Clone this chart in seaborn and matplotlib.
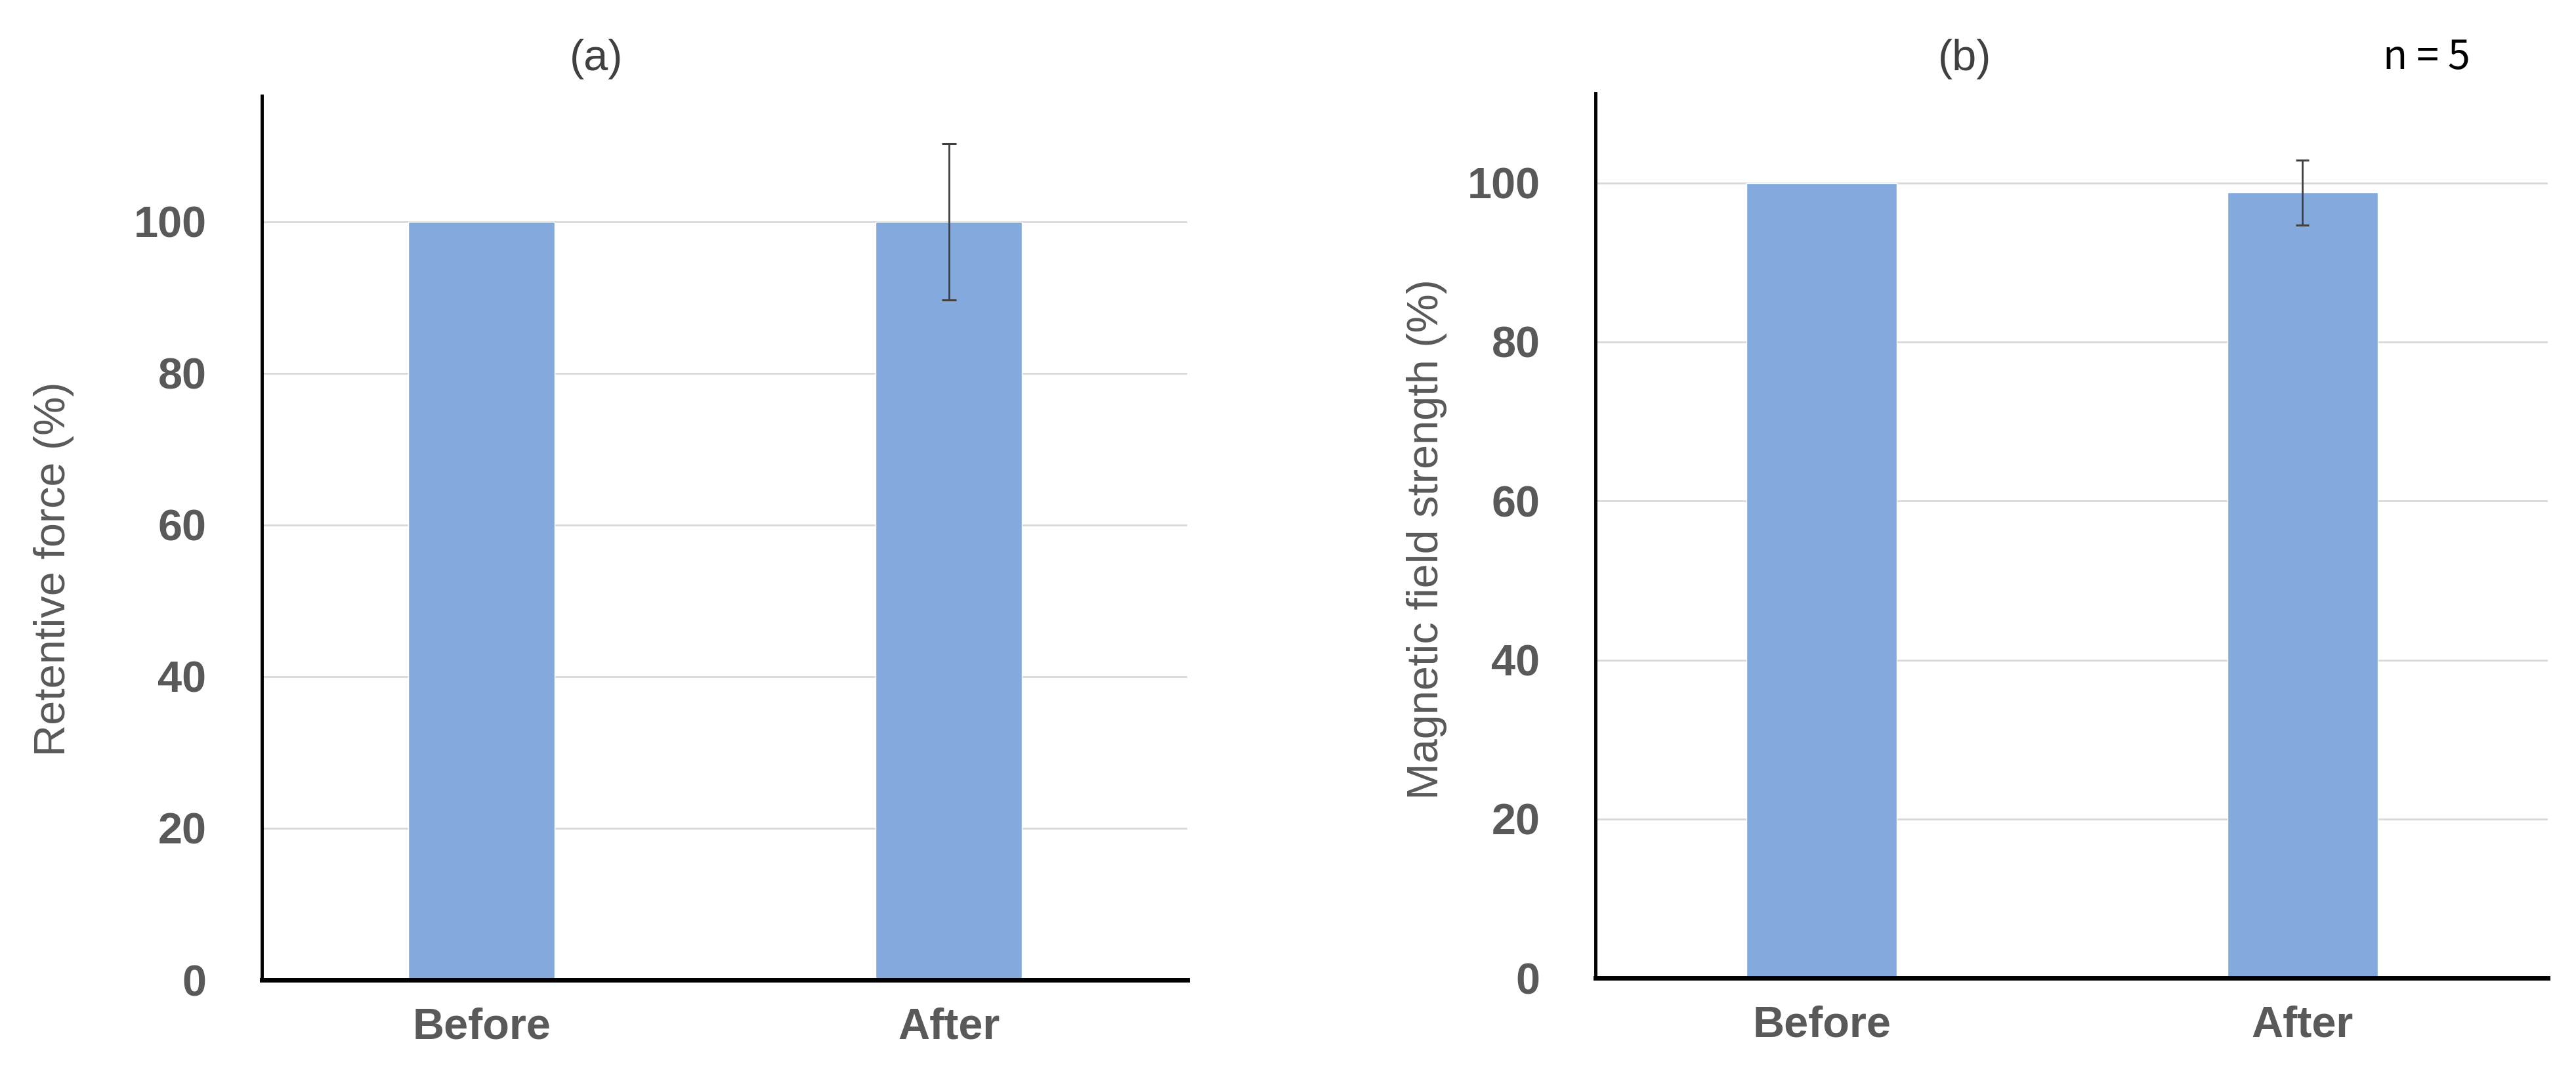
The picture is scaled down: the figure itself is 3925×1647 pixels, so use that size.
import pandas as pd
import matplotlib
matplotlib.use("Agg")
import matplotlib.pyplot as plt
import seaborn as sns

categories = ["Before", "After"]
retentive_mean = [100, 100]
retentive_sd = [0, 10.3]
magnetic_mean = [100, 98.8]
magnetic_sd = [0, 4.1]
y_ticks = [0, 20, 40, 60, 80, 100]

sns.set_theme(style="white")
plt.rcParams['font.family'] = ['Liberation Sans', 'DejaVu Sans']

bar_color = '#84AADD'
text_gray = '#595959'


def draw_panel(ax, means, sds, ylabel, ytop, label_x, label_y, cap):
    df = pd.DataFrame({'condition': categories, 'value': means})
    sns.barplot(data=df, x='condition', y='value', order=categories, color=bar_color,
                width=0.313, saturation=1, errorbar=None, ax=ax, zorder=2)
    # error bars only where there is a spread
    xs = [i for i, s in enumerate(sds) if s > 0]
    ax.errorbar(xs, [means[i] for i in xs], yerr=[sds[i] for i in xs], fmt='none',
                ecolor='#404040', elinewidth=2, capsize=cap, capthick=2.2, zorder=3)

    ax.set_xlim(-0.47, 1.51)
    ax.set_ylim(0, ytop)
    ax.set_yticks(y_ticks)
    ax.set_axisbelow(True)
    ax.yaxis.grid(True, color='#D9D9D9', linewidth=2)
    ax.xaxis.grid(False)

    for side in ['top', 'right']:
        ax.spines[side].set_visible(False)
    ax.spines['left'].set_color('black')
    ax.spines['left'].set_linewidth(3.5)
    ax.spines['bottom'].set_color('black')
    ax.spines['bottom'].set_linewidth(5)

    ax.tick_params(axis='y', length=11, width=2, color='#D9D9D9', pad=50,
                   labelsize=48, labelcolor=text_gray)
    ax.tick_params(axis='x', length=0, pad=30, labelsize=48, labelcolor=text_gray)
    for lab in ax.get_xticklabels() + ax.get_yticklabels():
        lab.set_fontweight('bold')

    ax.set_xlabel('')
    ax.set_ylabel(ylabel, fontsize=48, color=text_gray)
    ax.yaxis.set_label_coords(label_x, label_y)


fig = plt.figure(figsize=(39.25, 16.47), dpi=100)
ax_a = fig.add_axes([0.1017, 0.0935, 0.3592, 0.8179])
ax_b = fig.add_axes([0.6194, 0.0953, 0.3697, 0.8186])

draw_panel(ax_a, retentive_mean, retentive_sd, 'Retentive force (%)', 116.6, -0.203, 0.465, 8)
draw_panel(ax_b, magnetic_mean, magnetic_sd, 'Magnetic field strength (%)', 111.3, -0.156, 0.496, 7)

fig.text(0.2316, 0.9454, '(a)', ha='center', va='center', fontsize=48, color='#404040')
fig.text(0.7628, 0.9454, '(b)', ha='center', va='center', fontsize=48, color='#404040')
fig.text(0.9419, 0.9465, 'n = 5', ha='center', va='center', fontsize=44, color='black',
         family=['Noto Sans CJK JP', 'DejaVu Sans'])

fig.savefig('out.png', dpi=100, facecolor='white')
